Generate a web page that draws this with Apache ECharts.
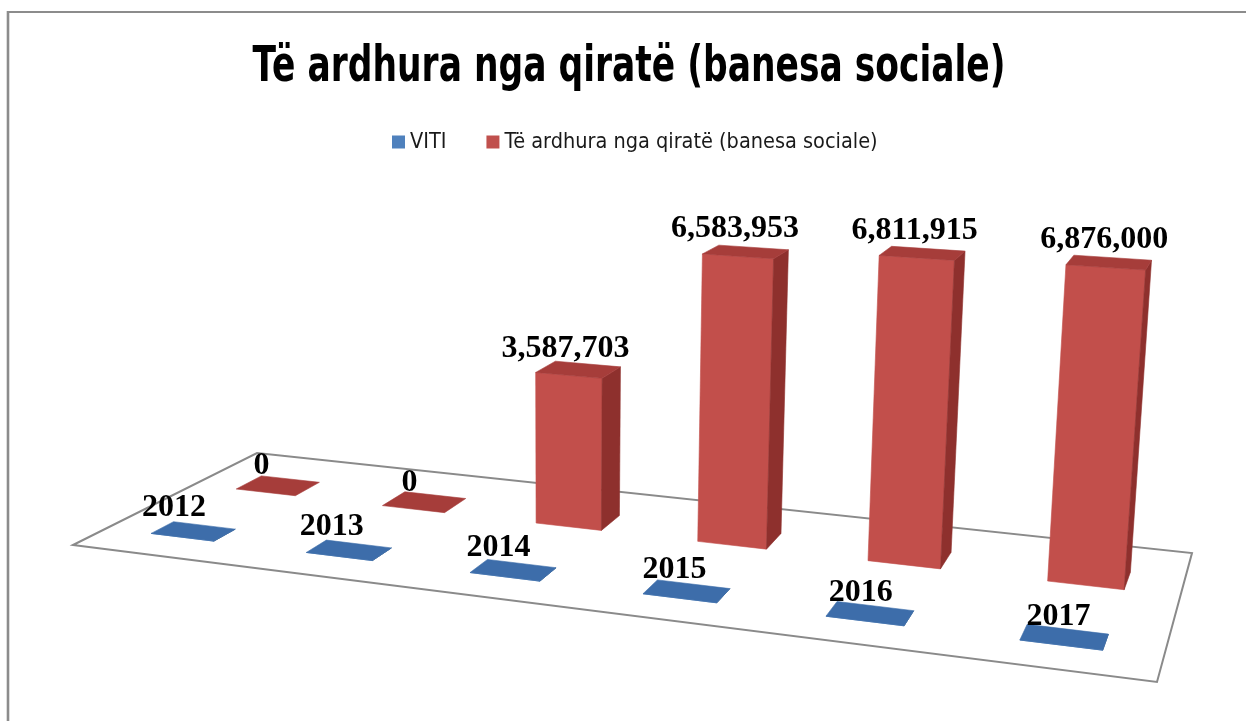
<!DOCTYPE html>
<html><head><meta charset="utf-8">
<script src="https://cdn.jsdelivr.net/npm/echarts@6.0.0/dist/echarts.min.js"></script>
<style>html,body{margin:0;padding:0;background:#fff}#c{width:1246px;height:721px}</style>
</head><body><div id="c"></div>
<script>
// ---- data ----
const categories = ['2012', '2013', '2014', '2015', '2016', '2017'];
const vitiValues = [2012, 2013, 2014, 2015, 2016, 2017];
const rentValues = [0, 0, 3587703, 6583953, 6811915, 6876000];
const seriesNames = ['VITI', 'Të ardhura nga qiratë (banesa sociale)'];
const chartTitle = 'Të ardhura nga qiratë (banesa sociale)';

// ---- layout (perspective floor + vertical vanishing point) ----
const FLOOR = { fl: [73, 545], fr: [1157, 682], br: [1192, 553], bl: [257, 453] };
const VP = [560, 9000];
const GRID = { left: 100, top: 100, width: 600, height: 300 };
const Y_MAX = 7000000;
const ROWS = [{ t: 0.22, depth: 0.115, labelDy: -34 }, { t: 0.70, depth: 0.15, labelDy: -29 }];
const BAR_FRAC = 0.41;
const COLORS = {
  blue: { front: '#4A7AB5', side: '#2F5A8C', top: '#3D6DAA' },
  red: { front: '#C24F4B', side: '#8E302D', top: '#A63D3A' }
};
const SANS = '"Liberation Sans Narrow", "DejaVu Sans Condensed", "Liberation Sans", sans-serif';

function makeH(p0, p1, p2, p3) {
  const sx = p0[0] - p1[0] + p2[0] - p3[0], sy = p0[1] - p1[1] + p2[1] - p3[1];
  const dx1 = p1[0] - p2[0], dx2 = p3[0] - p2[0], dy1 = p1[1] - p2[1], dy2 = p3[1] - p2[1];
  const den = dx1 * dy2 - dx2 * dy1;
  const g = (sx * dy2 - dx2 * sy) / den, h = (dx1 * sy - sx * dy1) / den;
  return {
    a: p1[0] - p0[0] + g * p1[0], b: p3[0] - p0[0] + h * p3[0], c: p0[0],
    d: p1[1] - p0[1] + g * p1[1], e: p3[1] - p0[1] + h * p3[1], f: p0[1], g, h
  };
}
const H = makeH(FLOOR.fl, FLOOR.fr, FLOOR.br, FLOOR.bl);
const MU = -1 / (VP[1] - 550);
function project(s, t, hp) {
  const X = H.a * s + H.b * t + H.c, Y = H.d * s + H.e * t + H.f, W = H.g * s + H.h * t + 1;
  const k = MU * hp;
  return [(X + k * VP[0]) / (W + k), (Y + k * VP[1]) / (W + k)];
}
function area(pts) {
  let a = 0;
  for (let i = 0; i < pts.length; i++) {
    const p = pts[i], q = pts[(i + 1) % pts.length];
    a += p[0] * q[1] - q[0] * p[1];
  }
  return a / 2;
}

function makeRender(rowIdx, pal, fmt) {
  return function (params, api) {
    const i = api.value(0), v = api.value(1);
    const base = api.coord([i, 0]), top = api.coord([i, v]);
    const hp = base[1] - top[1];
    const s = (base[0] - GRID.left) / GRID.width;
    const ds = api.size([1, 0])[0] * BAR_FRAC / GRID.width / 2;
    const row = ROWS[rowIdx], dt = row.depth / 2;
    const s0 = s - ds, s1 = s + ds, t0 = row.t - dt, t1 = row.t + dt;
    const faces = [
      { q: [[s0, t0, 0], [s1, t0, 0], [s1, t0, hp], [s0, t0, hp]], c: pal.front },
      { q: [[s1, t1, 0], [s0, t1, 0], [s0, t1, hp], [s1, t1, hp]], c: pal.front },
      { q: [[s1, t0, 0], [s1, t1, 0], [s1, t1, hp], [s1, t0, hp]], c: pal.side },
      { q: [[s0, t1, 0], [s0, t0, 0], [s0, t0, hp], [s0, t1, hp]], c: pal.side },
      { q: [[s0, t0, hp], [s1, t0, hp], [s1, t1, hp], [s0, t1, hp]], c: pal.top }
    ];
    const children = [];
    faces.forEach(f => {
      const pts = f.q.map(p => project(p[0], p[1], p[2]));
      if (area(pts) < -0.01) {
        children.push({ type: 'polygon', shape: { points: pts },
          style: { fill: f.c, stroke: f.c, lineWidth: 0.6 } });
      }
    });
    const lp = project(s, row.t - 0.1, hp);
    children.push({ type: 'text', x: lp[0], y: lp[1] + row.labelDy, z2: 100,
      style: { text: fmt(v), fontFamily: '"Liberation Serif", "Times New Roman", serif',
        fontWeight: 'bold', fontSize: 32, fill: '#000', align: 'center', verticalAlign: 'middle' } });
    return { type: 'group', children };
  };
}

const chart = echarts.init(document.getElementById('c'), null, { renderer: 'canvas' });
chart.setOption({
  animation: false,
  backgroundColor: '#fff',
  legend: {
    data: seriesNames, top: 126, left: 387, itemGap: 40, itemWidth: 13, itemHeight: 13, icon: 'rect',
    textStyle: { fontFamily: SANS, fontSize: 21.5, color: '#1a1a1a' }
  },
  grid: { left: GRID.left, top: GRID.top, width: GRID.width, height: GRID.height, show: false },
  xAxis: { type: 'category', data: categories, show: false },
  yAxis: { type: 'value', min: 0, max: Y_MAX, show: false },
  graphic: [
    { type: 'line', shape: { x1: 8, y1: 11, x2: 8, y2: 721 }, style: { stroke: '#8c8c8c', lineWidth: 2.6 } },
    { type: 'line', shape: { x1: 7, y1: 12, x2: 1246, y2: 12 }, style: { stroke: '#8c8c8c', lineWidth: 2 } },
    { type: 'text', x: 629, y: 43, scaleX: 0.767,
      style: { text: chartTitle, fontFamily: SANS, fontWeight: 'bold', fontSize: 50, fill: '#000',
        align: 'center', verticalAlign: 'top' } }
  ],
  series: [
    {
      type: 'custom', name: 'floor', z: 1, silent: true, data: [[0, 0]],
      renderItem: function () {
        const pts = [project(0, 0, 0), project(1, 0, 0), project(1, 1, 0), project(0, 1, 0)];
        return { type: 'polygon', shape: { points: pts }, style: { fill: '#fff', stroke: '#8a8a8a', lineWidth: 2 } };
      }
    },
    {
      type: 'custom', name: seriesNames[1], z: 2, itemStyle: { color: '#C0504D' },
      data: categories.map((c, i) => [i, rentValues[i]]),
      renderItem: makeRender(1, COLORS.red, v => v.toLocaleString('en-US'))
    },
    {
      type: 'custom', name: seriesNames[0], z: 3, itemStyle: { color: '#4F81BD' },
      data: categories.map((c, i) => [i, vitiValues[i]]),
      renderItem: makeRender(0, COLORS.blue, v => String(v))
    }
  ]
});
</script>
</body></html>
